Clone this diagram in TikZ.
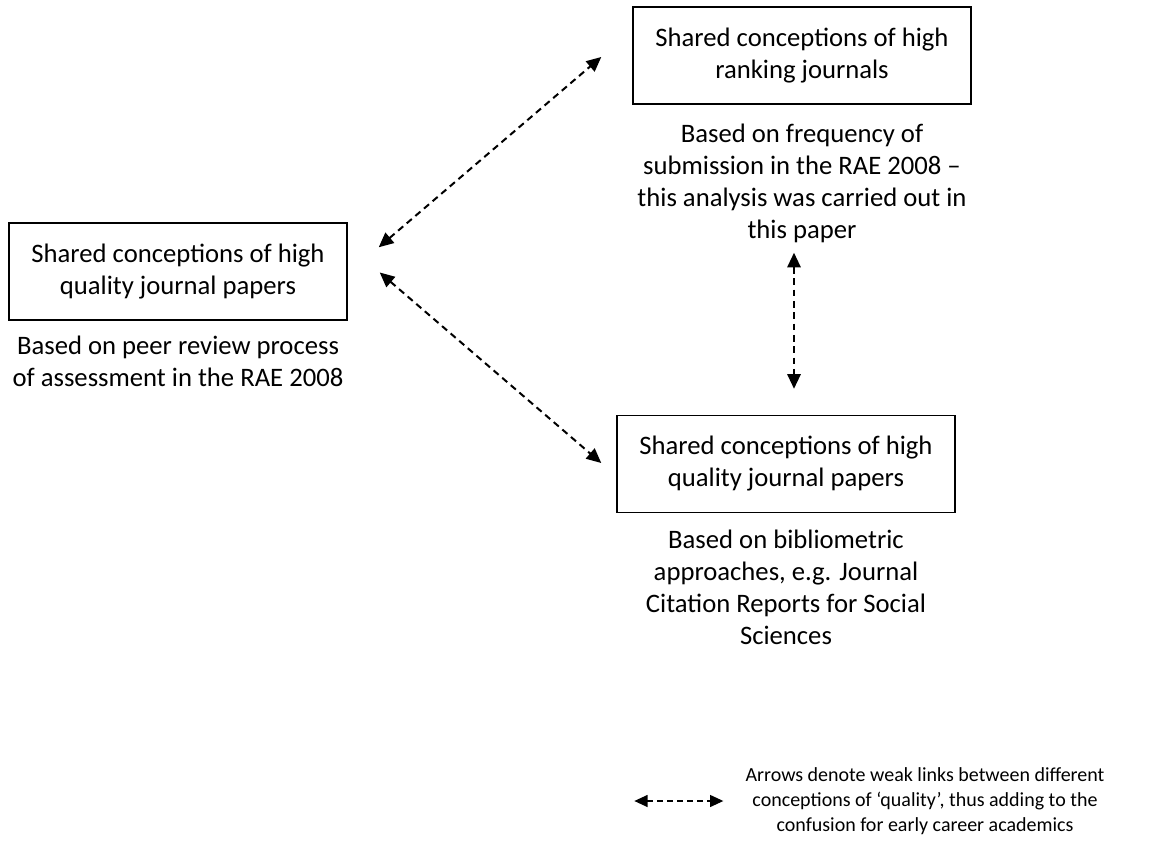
\documentclass[tikz,border=0pt]{standalone}
\usepackage{fontspec}
\setmainfont{Carlito}
\usepackage{tikz}
\usetikzlibrary{positioning, arrows.meta, calc}

\begin{document}
\begin{tikzpicture}[x=0.75pt, y=-0.75pt]
	\tikzstyle{concept}=[rectangle, draw=black, line width=1.1pt, minimum width=253.5pt, minimum height=72.75pt, align=center, inner sep=0pt, font=\fontsize{20}{24}\selectfont]
	\tikzstyle{basis}=[align=center, inner sep=0pt, font=\fontsize{20}{24}\selectfont]
	\tikzstyle{weak link}=[{Triangle[length=11pt, width=10pt]}-{Triangle[length=11pt, width=10pt]}, line width=1.5pt, dash pattern=on 5pt off 3.5pt]
	\tikzstyle{key link}=[{Triangle[length=10pt, width=9pt]}-{Triangle[length=10pt, width=9pt]}, line width=1.1pt, dash pattern=on 4pt off 3.5pt]
	\tikzstyle{legend}=[align=center, inner sep=0pt, font=\fontsize{15}{18.8}\selectfont]

	\useasboundingbox (0,0) rectangle (1157,842);

	% Draw the three conception boxes
	\node[concept] (peer) at (178,271.5) {Shared conceptions of high\\quality journal papers};
	\node[concept] (rank) at (802,55.5) {Shared conceptions of high\\ranking journals};
	\node[concept] (biblio) at (786,464) {Shared conceptions of high\\quality journal papers};

	% What each conception is based on
	\node[basis, below=11pt of peer] (peer-b) {Based on peer review process\\of assessment in the RAE 2008};
	\node[basis, below=14pt of rank] (rank-b) {Based on frequency of\\submission in the RAE 2008 --\\this analysis was carried out in\\this paper};
	\node[basis, below=12pt of biblio] (biblio-b) {Based on bibliometric\\approaches, e.g. Journal\\Citation Reports for Social\\Sciences};

	% Weak links between the conceptions
	\coordinate (pr-a) at ($(peer.north east)+(31,25)$);
	\coordinate (pr-b) at ($(rank.west)+(-31,1.5)$);
	\draw[weak link] (pr-a) -- (pr-b);

	\coordinate (pb-a) at ($(peer.east)+(32,1)$);
	\coordinate (pb-b) at ($(biblio.west)+(-15,-1)$);
	\draw[weak link] (pb-a) -- (pb-b);

	\coordinate (rb-a) at ($(rank.south)+(-8,148)$);
	\coordinate (rb-b) at ($(biblio.north)+(8,-26)$);
	\draw[weak link] (rb-a) -- (rb-b);

	% Annotate the arrows
	\node[legend] (key) at (925,801) {Arrows denote weak links between different\\conceptions of ‘quality’, thus adding to the\\confusion for early career academics};
	\coordinate (key-l) at ($(key.west)+(-111,0)$);
	\coordinate (key-r) at ($(key.west)+(-22,0)$);
	\draw[key link] (key-l) -- (key-r);
\end{tikzpicture}
\end{document}
